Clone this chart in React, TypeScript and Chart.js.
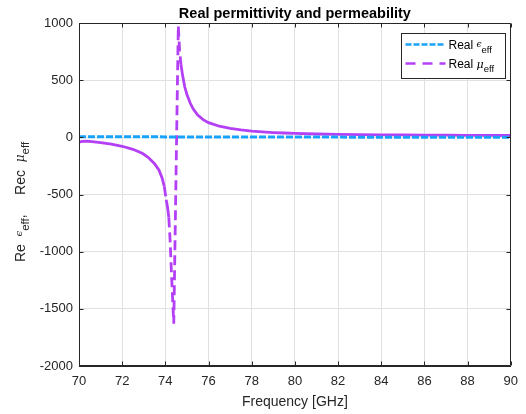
import { useEffect, useRef } from 'react';
import { Chart, registerables } from 'chart.js';

Chart.register(...registerables);

// ---- data ----
const FREQ_MU = [
  70.0, 70.15, 70.35, 70.6, 71.0, 71.5, 72.0, 72.5, 72.95, 73.2, 73.5, 73.7, 73.85, 73.95,
  74.04, 74.1, 74.16, 74.22, 74.27, 74.33, 74.39, 74.6, 74.66, 74.72, 74.8, 74.9, 75.0, 75.15,
  75.3, 75.5, 75.75, 76.0, 76.5, 77.0, 77.5, 78.0, 78.5, 79.0, 79.5, 80.0, 81.0, 82.0, 83.0, 84.0,
  85.0, 86.0, 87.0, 88.0, 89.0, 90.0,
];
const MU = [
  -43, -36, -34, -37, -46, -60, -78, -105, -142, -175, -230, -285, -355, -430,
  -545, -610, -700, -900, -1130, -1390, -1630, 975, 760, 640, 540, 440, 375, 300,
  245, 195, 155, 128, 97, 78, 65, 55, 48, 42, 38, 34, 29, 26, 24, 22,
  21, 20, 19, 18, 17, 16,
];
const FREQ_EPS = [70, 72, 74, 76, 78, 80, 82, 84, 86, 88, 90];
const EPS = [6, 5, 4, 4, 3, 2, 2, 1, 1, 0, 0];
const X_TICKS = [70, 72, 74, 76, 78, 80, 82, 84, 86, 88, 90];
const Y_TICKS = [-2000, -1500, -1000, -500, 0, 500, 1000];
const TITLE = 'Real permittivity and permeability';
const X_LABEL = 'Frequency [GHz]';

// ---- styles ----
const FONT = '"Liberation Sans", Arial, Helvetica, sans-serif';
const GREEK = '"DejaVu Serif", "Liberation Serif", serif';
const AXIS = '#262626';
const GRID = '#e0e0e0';
const BLUE = '#18a2fa';
const PURPLE = '#b440f6';

type Run = { t: string; size: number; dy?: number; italic?: boolean; bold?: boolean; family?: string };

function fontOf(r: Run) {
  return `${r.italic ? 'italic ' : ''}${r.bold ? 'bold ' : ''}${r.size}px ${r.family || FONT}`;
}
function runsWidth(ctx: CanvasRenderingContext2D, runs: Run[]) {
  let w = 0;
  for (const r of runs) {
    ctx.font = fontOf(r);
    w += ctx.measureText(r.t).width;
  }
  return w;
}
function drawRuns(ctx: CanvasRenderingContext2D, x: number, y: number, runs: Run[]) {
  let cx = x;
  for (const r of runs) {
    ctx.font = fontOf(r);
    ctx.fillText(r.t, cx, y + (r.dy || 0));
    cx += ctx.measureText(r.t).width;
  }
}

const decor = {
  id: 'decor',
  afterDraw(chart: any) {
    const { ctx, chartArea: a } = chart;
    const xs = chart.scales.x;
    const ys = chart.scales.y;
    ctx.save();
    // axes box
    ctx.strokeStyle = AXIS;
    ctx.lineWidth = 1;
    const L = Math.round(a.left) + 0.5;
    const R = Math.round(a.right) - 0.5;
    const T = Math.round(a.top) + 0.5;
    const B = Math.round(a.bottom) - 0.5;
    ctx.beginPath();
    ctx.moveTo(L, T);
    ctx.lineTo(R, T);
    ctx.lineTo(R, B);
    ctx.lineTo(L, B);
    ctx.closePath();
    ctx.stroke();
    // inward tick marks
    ctx.beginPath();
    for (const v of X_TICKS) {
      const px = Math.round(xs.getPixelForValue(v)) + 0.5;
      ctx.moveTo(px, B);
      ctx.lineTo(px, B - 4);
      ctx.moveTo(px, T);
      ctx.lineTo(px, T + 4);
    }
    for (const v of Y_TICKS) {
      const py = Math.round(ys.getPixelForValue(v)) + 0.5;
      ctx.moveTo(L, py);
      ctx.lineTo(L + 4, py);
      ctx.moveTo(R, py);
      ctx.lineTo(R - 4, py);
    }
    ctx.stroke();

    // title
    ctx.fillStyle = '#000';
    ctx.textAlign = 'center';
    ctx.textBaseline = 'alphabetic';
    ctx.font = `bold 14.5px ${FONT}`;
    ctx.fillText(TITLE, (a.left + a.right) / 2, 18);

    // x label
    ctx.fillStyle = AXIS;
    ctx.font = `14px ${FONT}`;
    ctx.fillText(X_LABEL, (a.left + a.right) / 2, 406);

    // y label (rotated)
    const yRuns: Run[] = [
      { t: 'Re  ', size: 14 },
      { t: 'ϵ', size: 10, italic: true, family: GREEK, dy: -3 },
      { t: 'eff', size: 11.5, dy: 4 },
      { t: ',     Rec  ', size: 14 },
      { t: 'μ', size: 12, italic: true, family: GREEK, dy: -1 },
      { t: 'eff', size: 11.5, dy: 4 },
    ];
    ctx.textAlign = 'left';
    const yw = runsWidth(ctx, yRuns);
    ctx.save();
    ctx.translate(25, 202);
    ctx.rotate(-Math.PI / 2);
    drawRuns(ctx, -yw / 2, 0, yRuns);
    ctx.restore();

    // legend
    const bx = Math.round(a.right) - 109.5;
    const by = Math.round(a.top) + 10.5;
    const bw = 104;
    const bh = 45;
    ctx.fillStyle = '#fff';
    ctx.fillRect(bx, by, bw, bh);
    ctx.strokeStyle = AXIS;
    ctx.lineWidth = 1;
    ctx.strokeRect(bx, by, bw, bh);
    const rows = [
      { color: BLUE, dash: [6, 2, 6, 2], y: by + 11, sym: 'ϵ' },
      { color: PURPLE, dash: [10, 7], y: by + 30, sym: 'μ' },
    ];
    for (const row of rows) {
      ctx.save();
      ctx.strokeStyle = row.color;
      ctx.lineWidth = 2.5;
      ctx.setLineDash(row.dash);
      ctx.beginPath();
      ctx.moveTo(bx + 4, row.y);
      ctx.lineTo(bx + 44, row.y);
      ctx.stroke();
      ctx.restore();
      ctx.fillStyle = '#000';
      drawRuns(ctx, bx + 47, row.y + 4.5, [
        { t: 'Real ', size: 12 },
        { t: row.sym, size: row.sym === 'μ' ? 11 : 9, italic: true, family: GREEK, dy: row.sym === 'μ' ? 0 : -2 },
        { t: 'eff', size: 9.5, dy: 4 },
      ]);
    }
    ctx.restore();
  },
};

export default function App() {
  const ref = useRef<HTMLCanvasElement | null>(null);
  useEffect(() => {
    if (!ref.current) return;
    const chart = new Chart(ref.current, {
      type: 'line',
      data: {
        datasets: [
          {
            label: 'Real eps_eff',
            data: FREQ_EPS.map((x, i) => ({ x, y: EPS[i] })),
            borderColor: BLUE,
            borderWidth: 3,
            borderDash: [7, 2],
            pointRadius: 0,
            tension: 0,
          },
          {
            label: 'Real mu_eff',
            data: FREQ_MU.map((x, i) => ({ x, y: MU[i] })),
            borderColor: PURPLE,
            borderWidth: 2.8,
            pointRadius: 0,
            tension: 0,
            segment: {
              borderDash: (c: any) => {
                const dy = c.p1.y - c.p0.y;
                return Math.abs(dy) > 12 ? [10, 5] : undefined;
              },
            },
          },
        ],
      },
      options: {
        animation: false,
        responsive: false,
        events: [],
        layout: { padding: { top: 23, right: 13, left: 0, bottom: 0 } },
        plugins: {
          legend: { display: false },
          title: { display: false },
          tooltip: { enabled: false },
        },
        scales: {
          x: {
            type: 'linear',
            min: 70,
            max: 90,
            afterBuildTicks: (s: any) => {
              s.ticks = X_TICKS.map((v) => ({ value: v }));
            },
            afterFit: (s: any) => {
              s.height = 48;
            },
            grid: { color: GRID, drawTicks: false },
            border: { color: AXIS, width: 1 },
            ticks: {
              color: AXIS,
              padding: 8,
              maxRotation: 0,
              font: { family: FONT, size: 13 },
              callback: (v: any) => String(v),
            },
          },
          y: {
            type: 'linear',
            min: -2000,
            max: 1000,
            afterBuildTicks: (s: any) => {
              s.ticks = Y_TICKS.map((v) => ({ value: v }));
            },
            afterFit: (s: any) => {
              s.width = 79;
            },
            grid: { color: GRID, drawTicks: false },
            border: { color: AXIS, width: 1 },
            ticks: {
              color: AXIS,
              padding: 6,
              font: { family: FONT, size: 13 },
              callback: (v: any) => String(v),
            },
          },
        },
      },
      plugins: [decor],
    } as any);
    return () => chart.destroy();
  }, []);
  return (
    <div style={{ position: 'absolute', left: 0, top: 0, width: 526, height: 414, background: '#fff' }}>
      <canvas ref={ref} width={526} height={414} style={{ display: 'block' }} />
    </div>
  );
}
